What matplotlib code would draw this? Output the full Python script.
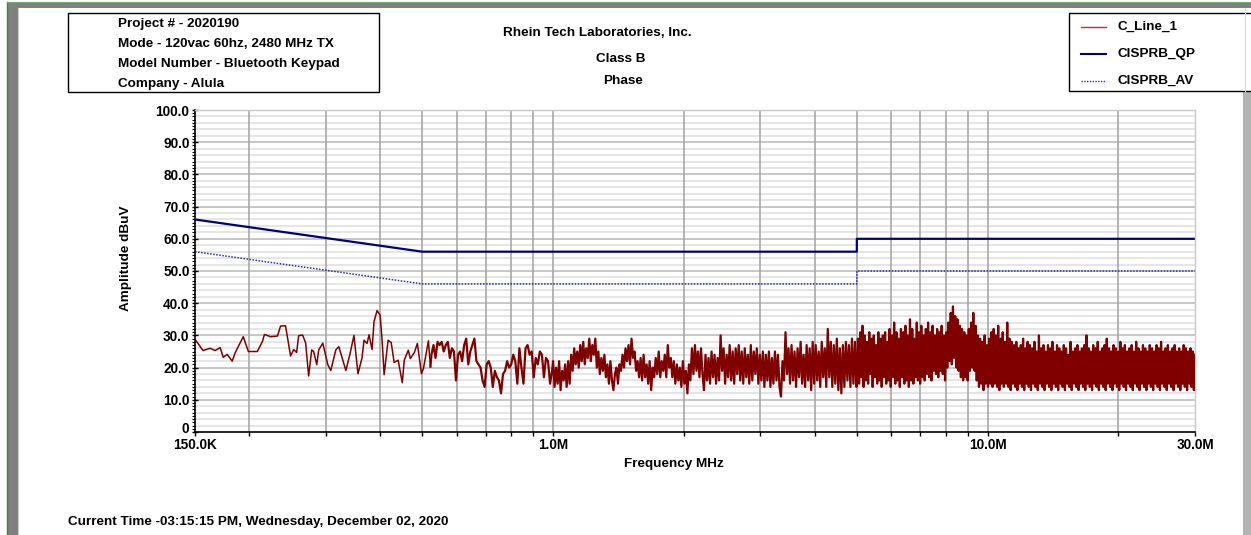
import numpy as np
import matplotlib.pyplot as plt
from matplotlib.patches import Rectangle
from matplotlib.ticker import NullFormatter
from matplotlib.transforms import ScaledTranslation

plt.rcParams['font.family'] = ['Liberation Sans', 'DejaVu Sans']
plt.rcParams['font.weight'] = 'bold'

# ------------------------------------------------------------
# Report header text
# ------------------------------------------------------------
project_lines = ["Project # - 2020190",
                 "Mode - 120vac 60hz, 2480 MHz TX",
                 "Model Number - Bluetooth Keypad",
                 "Company - Alula"]
title_lines = ["Rhein Tech Laboratories, Inc.", "Class B", "Phase"]
timestamp = "Current Time -03:15:15 PM, Wednesday, December 02, 2020"
series_names = ["C_Line_1", "CISPRB_QP", "CISPRB_AV"]

# ------------------------------------------------------------
# CISPR 22 class B conducted limits (MHz, dBuV)
# ------------------------------------------------------------
limit_freq = [0.15, 0.5, 5.0, 5.0, 30.0]
qp_limit = [66, 56, 56, 60, 60]
av_limit = [56, 46, 46, 50, 50]

# ------------------------------------------------------------
# Measured line trace
# ------------------------------------------------------------
# 150 kHz .. 520 kHz, slowly varying part
low_freq = [0.150, 0.1565, 0.1625, 0.1669, 0.1714, 0.1742, 0.1779, 0.1827,
            0.1857, 0.1937, 0.1990, 0.2087, 0.2144, 0.2167, 0.2237, 0.2322,
            0.2360, 0.2423, 0.2489, 0.2530, 0.2570, 0.2598, 0.2653, 0.2696,
            0.2739, 0.2784, 0.2813, 0.2859, 0.2889, 0.2952, 0.3032, 0.3080,
            0.3163, 0.3214, 0.3336, 0.3408, 0.3482, 0.3557, 0.3634, 0.3673,
            0.3732, 0.3772, 0.3833, 0.3873, 0.3936, 0.4000, 0.4042, 0.4086,
            0.4173, 0.4241, 0.4309, 0.4402, 0.4498, 0.4546, 0.4644, 0.4694,
            0.4796, 0.4873, 0.4979, 0.5032, 0.5166, 0.5222]
low_db = [28.8, 25.3, 26.0, 25.3, 26.2, 23.2, 24.1, 22.0,
          24.7, 29.6, 25.0, 25.0, 28.1, 30.3, 29.6, 29.8,
          32.9, 33.0, 23.6, 25.6, 24.7, 29.9, 30.1, 27.6,
          17.4, 25.5, 25.0, 20.9, 25.5, 27.6, 20.9, 19.1,
          25.5, 26.5, 19.1, 24.1, 30.0, 18.1, 23.0, 28.5,
          27.5, 30.2, 25.6, 34.3, 37.7, 36.3, 28.5, 17.8,
          28.5, 27.8, 21.6, 22.3, 15.3, 22.3, 25.4, 22.8,
          24.7, 27.5, 18.1, 19.7, 28.3, 20.3]

# swept sections: (start MHz, stop MHz) and readings in sweep order
sweep1_band = (0.525, 0.995)
sweep1_db = [24, 27, 23, 28, 27, 28, 25, 27, 28, 23, 26, 25, 16, 24, 25,
             22, 27, 29, 21, 25, 27, 29, 22, 21, 20, 16, 14, 21, 22, 20,
             14, 19, 17, 16, 12, 18, 19, 22, 20, 21, 24, 22, 15, 26, 20,
             15, 26, 27, 24, 25, 17, 23, 21, 25, 24, 17, 23, 22, 15, 19]

sweep2_band = (1.0, 4.99)
sweep2_db = [22, 14, 20, 15, 22, 13, 19, 16, 21, 14, 22, 15, 24, 19, 26, 21, 25, 20, 27, 22,
             28, 21, 26, 23, 29, 22, 27, 24, 29, 20, 25, 18, 23, 19, 24, 17, 21, 15, 22, 16,
             13, 18, 20, 15, 21, 19, 24, 20, 26, 22, 27, 21, 29, 23, 25, 19, 22, 17, 23, 16,
             24, 17, 21, 15, 22, 13, 20, 17, 23, 18, 25, 17, 22, 19, 24, 17, 27, 20, 23, 17,
             22, 15, 21, 16, 20, 14, 22, 15, 19, 12, 21, 16, 26, 18, 27, 19, 25, 17, 26, 18,
             13, 24, 16, 23, 15, 25, 17, 24, 15, 23, 16, 30, 19, 26, 15, 24, 17, 27, 16, 25,
             15, 26, 18, 27, 16, 25, 15, 26, 17, 24, 15, 27, 16, 25, 18, 26, 15, 24, 16, 25,
             14, 24, 16, 25, 14, 23, 15, 25, 16, 24, 14, 11, 22, 16, 31, 18, 26, 15, 27, 16,
             25, 14, 26, 17, 28, 15, 24, 14, 27, 16, 26, 13, 28, 15, 27, 16, 25, 14, 28, 17,
             26, 14, 32, 17, 28, 14, 27, 15, 29, 13, 26, 12, 27, 14, 28, 16, 27, 14, 29, 15,
             28, 14]

sweep3_band = (5.0, 30.0)
sweep3_db = [16, 29, 15, 31, 17, 33, 14, 30, 16, 28, 15, 31, 18, 29, 14, 30, 17, 27, 15, 31,
             16, 29, 14, 30, 17, 31, 15, 28, 16, 32, 14, 30, 17, 34, 15, 31, 16, 29, 14, 32,
             17, 31, 15, 33, 16, 30, 14, 35, 16, 32, 15, 29, 17, 34, 16, 31, 15, 33, 17, 30,
             16, 32, 18, 34, 17, 31, 16, 33, 19, 30, 18, 32, 17, 31, 19, 33, 18, 30, 16, 31,
             20, 34, 22, 37, 21, 39, 23, 36, 20, 35, 19, 33, 17, 32, 16, 31, 17, 30, 16, 32,
             19, 34, 20, 37, 19, 33, 16, 30, 14, 29, 15, 28, 13, 30, 15, 27, 14, 29, 15, 31,
             14, 32, 15, 30, 14, 33, 13, 29, 15, 31, 14, 28, 15, 34, 14, 29, 13, 28, 15, 27,
             14, 28, 13, 26, 15, 27, 14, 29, 13, 26, 15, 28, 14, 27, 13, 26, 15, 28, 14, 25,
             13, 30, 15, 26, 14, 27, 13, 25, 15, 27, 14, 26, 13, 28, 15, 25, 14, 27, 13, 26,
             15, 25, 14, 27, 13, 26, 15, 24, 14, 28, 13, 25, 15, 26, 14, 27, 13, 25, 15, 26,
             14, 27, 13, 30, 15, 26, 14, 25, 13, 27, 15, 26, 14, 28, 13, 25, 15, 26, 14, 27,
             13, 29, 15, 26, 14, 25, 13, 27, 15, 26, 14, 25, 13, 28, 15, 26, 14, 27, 13, 25,
             15, 26, 14, 27, 13, 25, 15, 28, 14, 26, 13, 25, 15, 27, 14, 26, 13, 25, 15, 27,
             14, 26, 13, 25, 15, 27, 14, 26, 13, 28, 15, 25, 14, 26, 13, 27, 15, 25, 14, 26,
             13, 27, 15, 25, 14, 26, 13, 25, 15, 27, 14, 26, 13, 25, 15, 26, 14, 25, 13, 24]

# axis ticks
x_major = [0.15, 1.0, 10.0, 30.0]
x_major_labels = ["150.0K", "1.0M", "10.0M", "30.0M"]
x_minor = [0.2, 0.3, 0.4, 0.5, 0.6, 0.7, 0.8, 0.9,
           2, 3, 4, 5, 6, 7, 8, 9, 20]
y_major = [0, 10, 20, 30, 40, 50, 60, 70, 80, 90, 100]
y_major_labels = ["0", "10.0", "20.0", "30.0", "40.0", "50.0",
                  "60.0", "70.0", "80.0", "90.0", "100.0"]

# ------------------------------------------------------------
# Assemble the swept part of the trace (starts at the last slow point)
# ------------------------------------------------------------
sweep_f = [np.array(low_freq[-1:])]
sweep_db = [np.array(low_db[-1:], dtype=float)]
for band, vals in [(sweep1_band, sweep1_db), (sweep2_band, sweep2_db),
                   (sweep3_band, sweep3_db)]:
    sweep_f.append(np.geomspace(band[0], band[1], len(vals)))
    sweep_db.append(np.array(vals, dtype=float))
sweep_f = np.concatenate(sweep_f)
sweep_db = np.concatenate(sweep_db)

# ------------------------------------------------------------
# Figure (pixel-based overlay for the report frame)
# ------------------------------------------------------------
W, H = 1251, 535
FS = 9.7
fig = plt.figure(figsize=(W / 100, H / 100), dpi=100, facecolor='white')

ov = fig.add_axes([0, 0, 1, 1], zorder=0)
ov.set_xlim(0, W)
ov.set_ylim(H, 0)
ov.axis('off')

# window frame
ov.add_patch(Rectangle((7, 3), W - 7, 4.5, fc='#808080', ec='none'))
ov.add_patch(Rectangle((7, 3), 10.5, H - 3, fc='#808080', ec='none'))
ov.plot([6.5, 6.5], [2, H], color='#2f8f2f', lw=1.0)
ov.plot([6.5, W], [2.2, 2.2], color='#6fa86f', lw=0.8)
ov.plot([18, 18], [8, H], color='#c8c8c8', lw=0.8)
ov.add_patch(Rectangle((1243, 92), 8, H - 92, fc='#b4b4b4', ec='none'))
ov.plot([1245, 1245], [8, 92], color='#d8d8d8', lw=0.8)

# project info box
ov.add_patch(Rectangle((68, 13), 311, 79, fill=False, ec='black', lw=1.0))
for i, line in enumerate(project_lines):
    ov.text(118, 24 + 20 * i, line, fontsize=FS, ha='left', va='center')

# centred titles
ov.text(597, 33, title_lines[0], fontsize=FS, ha='center', va='center')
ov.text(621, 59, title_lines[1], fontsize=FS, ha='center', va='center')
ov.text(623, 81, title_lines[2], fontsize=FS, ha='center', va='center')

# legend box
ov.add_patch(Rectangle((1069, 13), 200, 78, fc='white', ec='black', lw=1.0))
ov.plot([1081, 1106], [27, 27], color='#c03030', lw=1.0)
ov.plot([1081, 1106], [54, 54], color='#000080', lw=1.5)
ov.plot([1081, 1106], [81, 81], color='#2828b0', lw=1.0, ls=(0, (1, 1)))
for i, name in enumerate(series_names):
    ov.text(1118, 27 + 27 * i, name, fontsize=FS, ha='left', va='center')

# axis titles and footer
ov.text(126, 258, "Amplitude dBuV", fontsize=FS, rotation=90,
        ha='center', va='center')
ov.text(674, 464, "Frequency MHz", fontsize=FS, ha='center', va='center')
ov.text(68, 522, timestamp, fontsize=FS, ha='left', va='center')

# ------------------------------------------------------------
# Main plot
# ------------------------------------------------------------
ax = fig.add_axes([195 / W, 1 - 432 / H, 1000 / W, 322 / H], zorder=1)
ax.set_facecolor('white')
ax.set_xscale('log')
ax.set_xlim(0.15, 30)
ax.set_ylim(0, 100)

# grid
for v in range(2, 100, 2):
    if v % 10:
        ax.axhline(v, color='#e3e3e3', lw=1.3, zorder=0.5)
for v in y_major[1:]:
    ax.axhline(v, color='#c2c2c2', lw=1.3, zorder=0.6)
for f in x_minor + [1.0, 10.0]:
    ax.axvline(f, color='#a8a8a8', lw=1.2, zorder=0.7)

ax.plot(limit_freq, av_limit, color='#2828b0', lw=1.1, ls=(0, (1, 1)), zorder=2)
ax.plot(limit_freq, qp_limit, color='#000080', lw=1.6, zorder=2)
ax.plot(low_freq, low_db, color='#800000', lw=1.1, zorder=3)
ax.plot(sweep_f, sweep_db, color='#800000', lw=1.6, zorder=3)

ax.set_xticks(x_major, x_major_labels)
ax.set_xticks(x_minor, minor=True)
ax.xaxis.set_minor_formatter(NullFormatter())
ax.set_yticks(y_major, y_major_labels)
ax.set_yticks(range(0, 101), minor=True)

ax.tick_params(axis='both', which='both', labelsize=9.8, color='black')
ax.tick_params(axis='y', which='major', direction='inout', length=5, width=1, pad=1.5)
ax.tick_params(axis='y', which='minor', direction='out', length=2.5, width=0.8)
ax.tick_params(axis='x', which='both', direction='out', length=3, width=1, pad=1.6)
for lbl in ax.get_xticklabels() + ax.get_yticklabels():
    lbl.set_fontweight('bold')

# the "0" label sits just above the frequency labels
zero_lbl = ax.get_yticklabels()[0]
zero_lbl.set_transform(zero_lbl.get_transform()
                       + ScaledTranslation(0, 3 / 72, fig.dpi_scale_trans))

for side in ['top', 'right']:
    ax.spines[side].set_color('#c8c8c8')
    ax.spines[side].set_linewidth(1.0)
for side in ['left', 'bottom']:
    ax.spines[side].set_color('black')
    ax.spines[side].set_linewidth(1.2)

fig.savefig('out.png', dpi=100, facecolor='white')
